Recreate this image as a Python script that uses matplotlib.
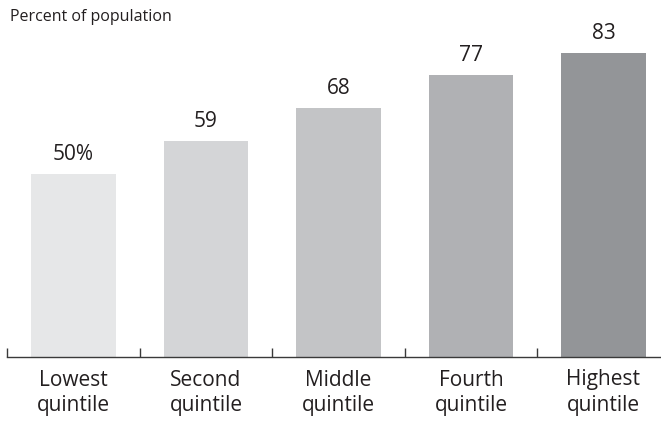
import matplotlib
matplotlib.use("Agg")
import matplotlib.pyplot as plt
from matplotlib.ticker import FixedLocator

plt.rcParams["font.family"] = ["Open Sans", "DejaVu Sans"]

# data
categories = ["Lowest\nquintile", "Second\nquintile", "Middle\nquintile",
              "Fourth\nquintile", "Highest\nquintile"]
values = [50, 59, 68, 77, 83]
value_labels = ["50%", "59", "68", "77", "83"]
bar_colors = ["#e6e7e8", "#d4d5d7", "#c3c4c6", "#b0b1b4", "#939598"]

TEXT = "#231f20"

fig = plt.figure(figsize=(6.61, 4.22), dpi=100)
# axis line sits 357 px from the top; axes spans full width
ax = fig.add_axes([0, 65 / 422, 1, 357 / 422])

x = list(range(len(values)))
ax.bar(x, values, width=0.64, color=bar_colors)

for xi, v, lab in zip(x, values, value_labels):
    ax.annotate(lab, (xi, v), xytext=(0, 10), textcoords="offset points",
                ha="center", va="baseline", fontsize=15, color=TEXT)

# pixel -> data mapping: center of bar i at 73.5 + 132.5 * i
ax.set_xlim(-73.5 / 132.5, (661 - 73.5) / 132.5)
ax.set_ylim(0, 357 / 3.66)

for side in ["top", "right", "left"]:
    ax.spines[side].set_visible(False)
ax.spines["bottom"].set_bounds(-0.5, ax.get_xlim()[1])
ax.spines["bottom"].set_color("#3a3a3a")
ax.spines["bottom"].set_linewidth(1.0)

ax.set_yticks([])
ax.set_xticks(x)
ax.set_xticklabels(categories, fontsize=15, color=TEXT, linespacing=1.3)
ax.tick_params(axis="x", which="major", length=0, pad=9)
ax.xaxis.set_minor_locator(FixedLocator([-0.5, 0.5, 1.5, 2.5, 3.5]))
ax.tick_params(axis="x", which="minor", direction="in", length=6.5,
               width=1.0, color="#3a3a3a")

fig.text(10 / 661, 1 - 21 / 422, "Percent of population", fontsize=11.5,
         color=TEXT, ha="left", va="baseline")

fig.savefig("out.png", dpi=100)
